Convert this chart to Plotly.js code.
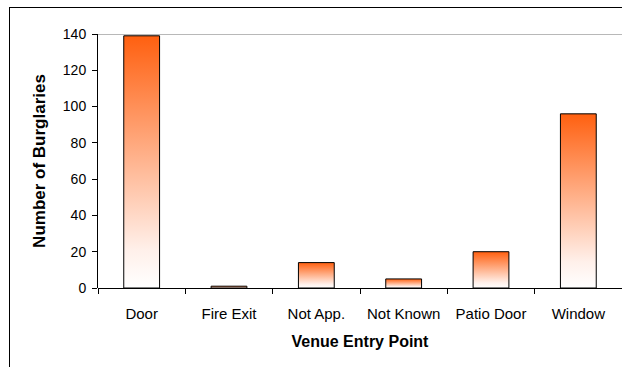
<!DOCTYPE html>
<html>
<head>
<meta charset="utf-8">
<script src="https://cdn.plot.ly/plotly-3.0.1.min.js"></script>
<style>
  html, body { margin: 0; padding: 0; background: #fff; }
  #wrap { position: relative; width: 622px; height: 367px; overflow: hidden; }
  #frame { position: absolute; left: 9px; top: 7px; width: 700px; height: 400px; border: 1px solid #000; box-sizing: border-box; pointer-events: none; }
  #chart { position: absolute; left: 0; top: 0; width: 622px; height: 367px; }
</style>
</head>
<body>
<div id="wrap">
  <div id="chart"></div>
  <div id="frame"></div>
</div>
<script>
const categories = ["Door", "Fire Exit", "Not App.", "Not Known", "Patio Door", "Window"];
const burglaries = [139, 1, 14, 5, 20, 96];
const yTicks = [0, 20, 40, 60, 80, 100, 120, 140];

const halfWidth = 0.205;
const traces = categories.map((c, i) => {
  const v = burglaries[i];
  return {
    type: "scatter",
    mode: "lines",
    x: [i - halfWidth, i - halfWidth, i + halfWidth, i + halfWidth, i - halfWidth],
    y: [0, v, v, 0, 0],
    fill: "toself",
    fillgradient: {
      type: "vertical",
      start: 0,
      stop: v,
      colorscale: [[0, "#ffffff"], [0.15, "#fff0ea"], [1, "#ff6010"]]
    },
    line: { color: "#000000", width: 1 },
    name: c,
    hoverinfo: "text",
    text: c + ": " + v,
    showlegend: false
  };
});

const layout = {
  width: 622,
  height: 367,
  margin: { l: 98, r: 0, t: 34, b: 79 },
  paper_bgcolor: "#ffffff",
  plot_bgcolor: "#ffffff",
  font: { family: "Liberation Sans, Arial, sans-serif", size: 14, color: "#000" },
  showlegend: false,
  xaxis: {
    range: [-0.5, 5.5],
    tickmode: "array",
    tickvals: categories.map((c, i) => i),
    ticktext: categories,
    ticks: "",
    tickfont: { size: 15 },
    ticklabelstandoff: 15,
    showgrid: false,
    zeroline: false,
    showline: false,
    minor: {
      tickmode: "array",
      tickvals: [-0.5, 0.5, 1.5, 2.5, 3.5, 4.5],
      ticks: "outside",
      ticklen: 5,
      tickcolor: "#000",
      showgrid: false
    },
    title: { text: "<b>Venue Entry Point</b>", font: { size: 16 }, standoff: 14 },
    fixedrange: true
  },
  yaxis: {
    range: [0, 140],
    tickmode: "array",
    tickvals: yTicks,
    ticks: "outside",
    ticklen: 5,
    tickcolor: "#000",
    tickfont: { size: 14 },
    showline: true,
    linecolor: "#000",
    linewidth: 1,
    showgrid: false,
    zeroline: true,
    zerolinecolor: "#000",
    zerolinewidth: 1,
    ticklabelstandoff: 3,
    title: { text: "<b>Number of Burglaries</b>", font: { size: 17 }, standoff: 12 },
    fixedrange: true
  },
  shapes: [
    { type: "line", xref: "paper", yref: "y", x0: 0, x1: 1, y0: 140, y1: 140, line: { color: "#a0a0a0", width: 1.5 }, layer: "below" }
  ]
};

Plotly.newPlot("chart", traces, layout, { displayModeBar: false, staticPlot: true });
</script>
</body>
</html>
